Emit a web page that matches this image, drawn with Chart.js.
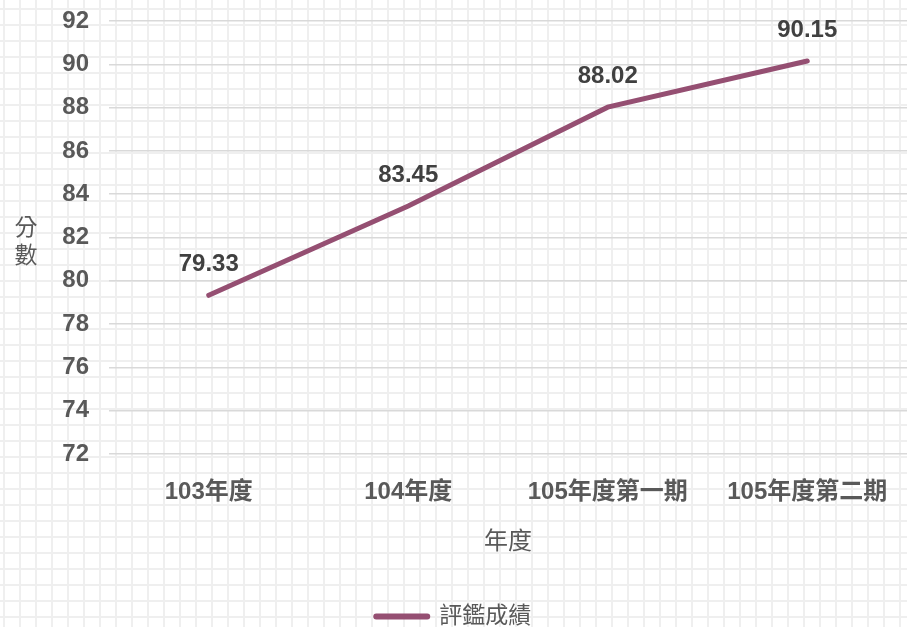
<!DOCTYPE html>
<html>
<head>
<meta charset="utf-8">
<script src="https://cdn.jsdelivr.net/npm/chart.js@4"></script>
<style>
  html, body { margin: 0; padding: 0; }
  body {
    width: 907px; height: 627px; overflow: hidden;
    background-color: #fff;
    background-image:
      linear-gradient(to right, #efefef 2px, transparent 2px),
      linear-gradient(to bottom, #efefef 2px, transparent 2px);
    background-size: 16px 16px;
    background-position: 3px 8px;
  }
  #wrap { position: relative; width: 907px; height: 627px; }
</style>
</head>
<body>
<div id="wrap"><canvas id="scoreChart"></canvas></div>
<script>
var categories = ['103年度', '104年度', '105年度第一期', '105年度第二期'];
var scores = [79.33, 83.45, 88.02, 90.15];
var yTicks = [72, 74, 76, 78, 80, 82, 84, 86, 88, 90, 92];
var seriesName = '評鑑成績';
var yTitle = ['分', '數'];
var xTitle = '年度';

var FONT = '"Liberation Sans", "Noto Sans CJK TC", sans-serif';
var lineColor = '#954f72';

// value labels above each point
var pointLabels = {
  id: 'pointLabels',
  afterDatasetsDraw: function(chart) {
    var ctx = chart.ctx;
    var meta = chart.getDatasetMeta(0);
    ctx.save();
    ctx.font = 'bold 24px ' + FONT;
    ctx.fillStyle = '#404040';
    ctx.textAlign = 'center';
    ctx.textBaseline = 'middle';
    meta.data.forEach(function(pt, i) {
      ctx.fillText(scores[i].toFixed(2), pt.x, pt.y - 31);
    });
    ctx.restore();
  }
};

// stacked (unrotated) y axis title
var yTitlePlugin = {
  id: 'yTitlePlugin',
  afterDraw: function(chart) {
    var ctx = chart.ctx;
    var a = chart.chartArea;
    var mid = (a.top + a.bottom) / 2;
    ctx.save();
    ctx.font = '23px ' + FONT;
    ctx.fillStyle = '#595959';
    ctx.textAlign = 'center';
    ctx.textBaseline = 'middle';
    ctx.fillText(yTitle[0], 26, mid - 9);
    ctx.fillText(yTitle[1], 26, mid + 19);
    ctx.restore();
  }
};

new Chart(document.getElementById('scoreChart').getContext('2d'), {
  type: 'line',
  data: {
    labels: categories,
    datasets: [{
      label: seriesName,
      data: scores,
      borderColor: lineColor,
      backgroundColor: lineColor,
      borderWidth: 5,
      borderCapStyle: 'round',
      pointRadius: 0,
      pointHoverRadius: 0,
      tension: 0
    }]
  },
  options: {
    responsive: true,
    maintainAspectRatio: false,
    animation: false,
    events: [],
    layout: { padding: { top: 21, right: 0, bottom: -11, left: 0 } },
    plugins: {
      tooltip: { enabled: false },
      legend: {
        position: 'bottom',
        labels: {
          font: { family: FONT, size: 23, lineHeight: 1 },
          color: '#595959',
          boxWidth: 52,
          boxHeight: 1,
          useBorderRadius: true,
          borderRadius: 0.5,
          padding: 2
        }
      }
    },
    scales: {
      x: {
        offset: true,
        afterFit: function(s) {
          s.height = 149;
          s.paddingLeft = 0;
          s.paddingRight = 0;
        },
        grid: { display: false, drawTicks: false },
        border: { display: false },
        ticks: {
          padding: 24,
          color: '#595959',
          font: { family: FONT, size: 24, weight: 'bold' },
          maxRotation: 0,
          autoSkip: false
        },
        title: {
          display: true,
          text: xTitle,
          color: '#595959',
          font: { family: FONT, size: 24 },
          padding: { top: 26, bottom: 46 }
        }
      },
      y: {
        min: 72,
        max: 92,
        afterBuildTicks: function(s) {
          s.ticks = yTicks.map(function(v) { return { value: v }; });
        },
        afterFit: function(s) {
          s.width = 109;
          s.paddingTop = 0;
          s.paddingBottom = 0;
        },
        grid: { color: '#d9d9d9', lineWidth: 1.5, drawTicks: false },
        border: { display: false },
        ticks: {
          padding: 20,
          color: '#595959',
          font: { family: FONT, size: 24, weight: 'bold' }
        }
      }
    }
  },
  plugins: [pointLabels, yTitlePlugin]
});
</script>
</body>
</html>
